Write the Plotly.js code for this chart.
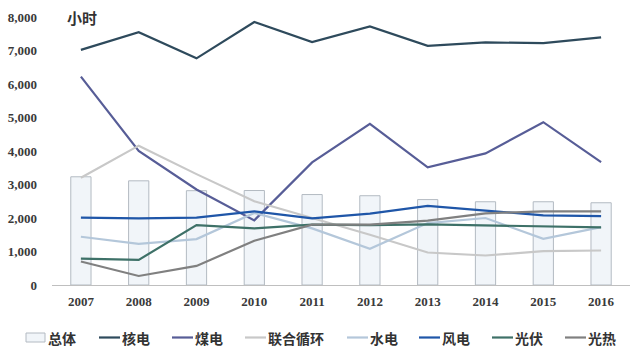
<!DOCTYPE html>
<html><head><meta charset="utf-8">
<script src="https://cdn.plot.ly/plotly-3.0.1.min.js"></script>
<style>html,body{margin:0;padding:0;background:#fff}#chart{width:640px;height:356px}</style>
</head><body><div id="chart"></div>
<script>
const years = ['2007','2008','2009','2010','2011','2012','2013','2014','2015','2016'];
const total    = [3230, 3110, 2815, 2820, 2700, 2665, 2550, 2485, 2485, 2455];
const nuclear  = [7020, 7545, 6765, 7850, 7250, 7720, 7140, 7240, 7220, 7390];
const coal     = [6220, 4000, 2850, 1930, 3660, 4810, 3510, 3930, 4860, 3670];
const combined = [3200, 4160, 3310, 2500, 2000, 1500, 970, 880, 1010, 1030];
const hydro    = [1440, 1230, 1370, 2150, 1690, 1080, 1850, 2000, 1380, 1730];
const wind     = [2010, 1990, 2010, 2200, 1990, 2130, 2360, 2230, 2080, 2055];
const pv       = [790, 750, 1790, 1690, 1800, 1790, 1810, 1780, 1770, 1720];
const csp      = [700, 270, 570, 1320, 1800, 1800, 1920, 2140, 2200, 2200];

const barName = '总体';
const names = ['核电','煤电','联合循环','水电','风电','光伏','光热'];
const series = [nuclear, coal, combined, hydro, wind, pv, csp];
const colors = ['#2e4a5c','#575d97','#c8c8c8','#b4c7da','#1f56a8','#3e7168','#808080'];
const barFill = '#f1f5f9', barLine = '#b3bac2';

const traces = [{
  type:'bar', name:barName, x: years, y: total,
  marker:{color:barFill, line:{color:barLine, width:1}}
}];
series.forEach((s,i)=>traces.push({
  type:'scatter', mode:'lines', name:names[i], x: years, y: s,
  line:{color:colors[i], width:2.2}
}));

// ---- custom legend (layout only) ----
const W = 640, H = 356, mL = 52, mR = 10, mT = 17, mB = 71;
const pw = W - mL - mR, ph = H - mT - mB;
const px = v => (v - mL) / pw;
const py = v => (H - mB - v) / ph;
const legY = 337.5;
const legLineStarts = [99, 172, 245, 347, 419, 492, 565];
const legLineLen = 21;
const shapes = [];
const annotations = [];
const legFont = {family:'Noto Sans CJK SC', size:14, color:'#333', weight:'bold'};
shapes.push({type:'rect', xref:'paper', yref:'paper', x0:px(26), x1:px(45), y0:py(342), y1:py(333),
  fillcolor:barFill, line:{color:barLine, width:1}});
annotations.push({text:barName, xref:'paper', yref:'paper', x:px(46), y:py(legY), xanchor:'left', yanchor:'middle',
  showarrow:false, font:legFont});
names.forEach((n,i)=>{
  const s = legLineStarts[i];
  shapes.push({type:'line', xref:'paper', yref:'paper', x0:px(s), x1:px(s+legLineLen), y0:py(legY), y1:py(legY),
    line:{color:colors[i], width:2.2}});
  annotations.push({text:n, xref:'paper', yref:'paper', x:px(s+legLineLen), y:py(legY), xanchor:'left', yanchor:'middle',
    showarrow:false, font:legFont});
});
annotations.push({text:'小时', xref:'paper', yref:'paper', x:px(65), y:py(17), xanchor:'left', yanchor:'middle',
  showarrow:false, font:{family:'Noto Sans CJK SC', size:15, color:'#333', weight:'bold'}});

const tickFont = {family:'Liberation Serif', size:13, color:'#3a3a3a', weight:'bold'};
const layout = {
  width:W, height:H,
  margin:{l:mL, r:mR, t:mT, b:mB},
  paper_bgcolor:'#fff', plot_bgcolor:'#fff',
  bargap:0.65,
  showlegend:false,
  xaxis:{type:'category', showgrid:false, zeroline:false, showline:true, linecolor:'#bfbfbf', linewidth:1,
         ticks:'', tickfont:tickFont, ticklabelstandoff:4},
  yaxis:{range:[0,8000], dtick:1000, tickformat:',d', showgrid:false, zeroline:false, showline:false,
         ticks:'', tickfont:tickFont, ticklabelstandoff:14},
  shapes: shapes,
  annotations: annotations
};
Plotly.newPlot('chart', traces, layout, {displayModeBar:false, staticPlot:true});
</script></body></html>
